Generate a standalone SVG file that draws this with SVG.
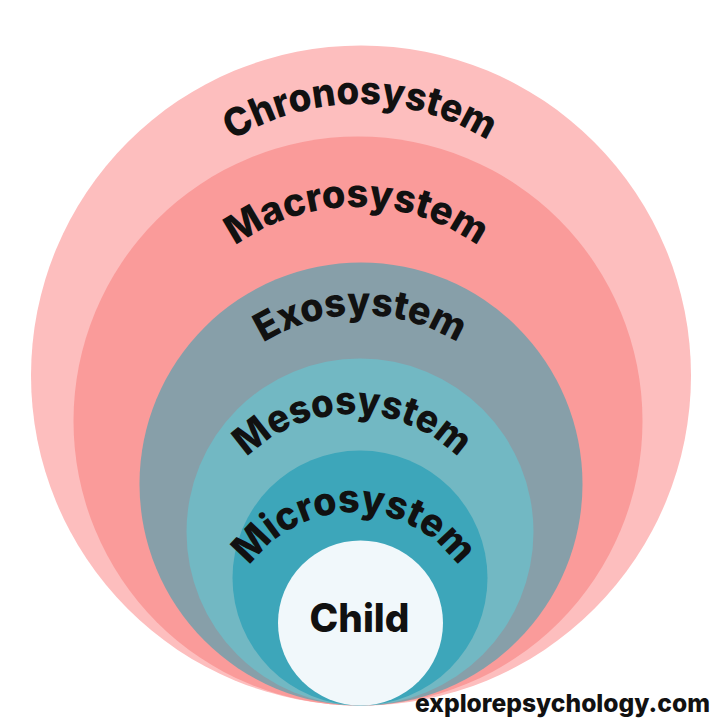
<svg xmlns="http://www.w3.org/2000/svg" width="720" height="720" viewBox="0 0 720 720">
  <style>
    .lbl { font-family: Inter, Lato, "Noto Sans", "Liberation Sans", sans-serif; font-weight: 800; font-size: 39px; fill: #111111; }
    .brand { font-family: Inter, Lato, "Noto Sans", "Liberation Sans", sans-serif; font-weight: 800; font-size: 25px; fill: #111111; }
  </style>
  <defs>
    <path id="arcChrono" d="M 127.8 280.5 A 241 241 0 0 1 592.2 280.5"/>
    <path id="arcMacro" d="M 155.1 360.1 A 209 209 0 0 1 557.9 360.1"/>
    <path id="arcExo" d="M 183.2 449.8 A 184 184 0 0 1 537.8 449.8"/>
    <path id="arcMeso" d="M 208 523.9 A 150 150 0 0 1 497 523.9"/>
    <path id="arcMicro" d="M 230.7 605.8 A 128 128 0 0 1 477.3 605.8"/>
  </defs>
  <rect width="720" height="720" fill="#ffffff"/>
  <g id="chronosystem">
    <circle cx="361" cy="375.5" r="330" fill="#FDBEBE"/>
  </g>
  <g id="macrosystem">
    <circle cx="358" cy="421" r="284.5" fill="#FA9B9A"/>
  </g>
  <g id="exosystem">
    <circle cx="361" cy="484" r="221.5" fill="#879FA9"/>
  </g>
  <g id="mesosystem">
    <circle cx="360" cy="532" r="173.5" fill="#72B8C3"/>
  </g>
  <g id="microsystem">
    <circle cx="360" cy="578" r="127.5" fill="#3DA6BA"/>
  </g>
  <g id="child">
    <circle cx="360.5" cy="623" r="82.5" fill="#F1F8FB"/>
    <text class="lbl" x="359.5" y="632" text-anchor="middle" textLength="100" lengthAdjust="spacingAndGlyphs">Child</text>
  </g>
  <g id="labels">
    <text class="lbl"><textPath href="#arcChrono" startOffset="50%" text-anchor="middle" textLength="269" lengthAdjust="spacingAndGlyphs">Chronosystem</textPath></text>
    <text class="lbl"><textPath href="#arcMacro" startOffset="50%" text-anchor="middle" textLength="259" lengthAdjust="spacingAndGlyphs">Macrosystem</textPath></text>
    <text class="lbl"><textPath href="#arcExo" startOffset="50%" text-anchor="middle" textLength="205" lengthAdjust="spacingAndGlyphs">Exosystem</textPath></text>
    <text class="lbl"><textPath href="#arcMeso" startOffset="50%" text-anchor="middle" textLength="234" lengthAdjust="spacingAndGlyphs">Mesosystem</textPath></text>
    <text class="lbl"><textPath href="#arcMicro" startOffset="50%" text-anchor="middle" textLength="244" lengthAdjust="spacingAndGlyphs">Microsystem</textPath></text>
  </g>
  <g id="credit">
    <text class="brand" x="415" y="712" textLength="295" lengthAdjust="spacingAndGlyphs">explorepsychology.com</text>
  </g>
</svg>
